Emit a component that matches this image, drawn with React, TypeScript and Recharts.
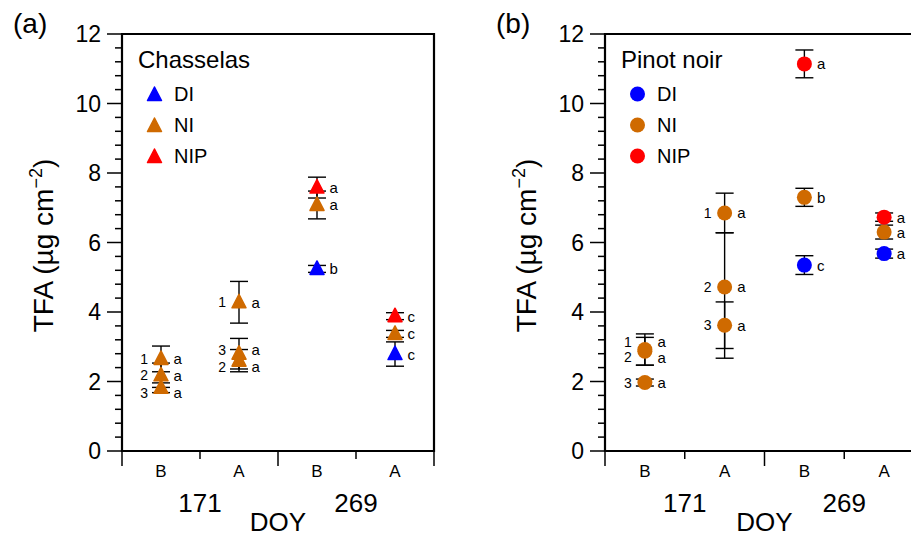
import { ScatterChart, Scatter, XAxis, YAxis, ErrorBar, ReferenceArea, Legend } from 'recharts';

const categories = ['B', 'A', 'B', 'A'];
const doyLabels = ['171', '269'];
const yMajorTicks = [0, 2, 4, 6, 8, 10, 12];
const yMinorStep = 0.4;

// cat = index into categories, rep = replicate label (NI on DOY 171 only)
type Pt = { cat: number; tfa: number; err: number | number[]; sig: string; rep?: number };

const chasselasDI: Pt[] = [
  { cat: 2, tfa: 5.24, err: 0.1, sig: 'b' },
  { cat: 3, tfa: 2.79, err: 0.35, sig: 'c' },
];
const chasselasNI: Pt[] = [
  { cat: 0, rep: 1, tfa: 2.65, err: 0.37, sig: 'a' },
  { cat: 0, rep: 2, tfa: 2.18, err: 0.35, sig: 'a' },
  { cat: 0, rep: 3, tfa: 1.82, err: 0.14, sig: 'a' },
  { cat: 1, rep: 1, tfa: 4.28, err: 0.6, sig: 'a' },
  { cat: 1, rep: 2, tfa: 2.6, err: 0.32, sig: 'a' },
  { cat: 1, rep: 3, tfa: 2.8, err: 0.44, sig: 'a' },
  { cat: 2, tfa: 7.08, err: 0.4, sig: 'a' },
  { cat: 3, tfa: 3.37, err: 0.1, sig: 'c' },
];
const chasselasNIP: Pt[] = [
  { cat: 2, tfa: 7.58, err: 0.3, sig: 'a' },
  { cat: 3, tfa: 3.88, err: 0.1, sig: 'c' },
];

const pinotDI: Pt[] = [
  { cat: 2, tfa: 5.35, err: 0.27, sig: 'c' },
  { cat: 3, tfa: 5.68, err: 0.13, sig: 'a' },
];
const pinotNI: Pt[] = [
  { cat: 0, rep: 1, tfa: 2.92, err: 0.45, sig: 'a' },
  { cat: 0, rep: 2, tfa: 2.87, err: 0.4, sig: 'a' },
  { cat: 0, rep: 3, tfa: 1.97, err: 0.1, sig: 'a' },
  { cat: 1, rep: 1, tfa: 6.85, err: 0.57, sig: 'a' },
  { cat: 1, rep: 2, tfa: 4.72, err: [2.05, 1.56], sig: 'a' },
  { cat: 1, rep: 3, tfa: 3.62, err: 0.67, sig: 'a' },
  { cat: 2, tfa: 7.3, err: 0.26, sig: 'b' },
  { cat: 3, tfa: 6.3, err: 0.2, sig: 'a' },
];
const pinotNIP: Pt[] = [
  { cat: 2, tfa: 11.14, err: 0.4, sig: 'a' },
  { cat: 3, tfa: 6.73, err: 0.12, sig: 'a' },
];

const COLORS: Record<string, string> = { DI: '#0000ff', NI: '#cf6a00', NIP: '#ff0000' };
const FONT = '"Liberation Sans", Arial, Helvetica, sans-serif';

// vertical nudges (px) for labels where points overlap
const labelNudge: Record<string, number> = {
  'a-0-3': 5, 'a-1-3': -4, 'a-1-2': 6,
  'b-0-1': -8, 'b-0-2': 6,
};

const yTicks = Array.from({ length: 31 }, (_, i) => Math.round(i * yMinorStep * 10) / 10);
const xTicks = [0, 0.5, 1, 1.5, 2, 2.5, 3, 3.5, 4];

function marker(kind: 'tri' | 'dot', color: string, cx: number, cy: number) {
  if (kind === 'tri') {
    return (
      <polygon
        points={`${cx},${cy - 8} ${cx - 7},${cy + 5.5} ${cx + 7},${cy + 5.5}`}
        fill={color} stroke={color} strokeWidth={1.5} strokeLinejoin="round"
      />
    );
  }
  return <circle cx={cx} cy={cy} r={7.5} fill={color} />;
}

const makeShape = (kind: 'tri' | 'dot', color: string, panel: string) => (props: any) => {
  const { cx, cy, payload } = props;
  const dy = payload.rep ? labelNudge[`${panel}-${payload.cat}-${payload.rep}`] ?? 0 : 0;
  return (
    <g>
      {marker(kind, color, cx, cy)}
      <text x={cx + 12.5} y={cy + dy} dominantBaseline="central" fontSize={15} fontFamily={FONT}>{payload.sig}</text>
      {payload.rep && (
        <text x={cx - 13} y={cy + dy} textAnchor="end" dominantBaseline="central" fontSize={14} fontFamily={FONT}>
          {payload.rep}
        </text>
      )}
    </g>
  );
};

function YTick({ x, y, payload }: any) {
  const v = payload.value;
  const major = yMajorTicks.includes(v);
  return (
    <g>
      <line x1={x - (major ? 15 : 7)} x2={x} y1={y} y2={y} stroke="#000" strokeWidth={1.5} />
      {major && (
        <text x={x - 21} y={y} textAnchor="end" dominantBaseline="central" fontSize={23} fontFamily={FONT}>{v}</text>
      )}
    </g>
  );
}

function XTick({ x, y, payload }: any) {
  const v = payload.value;
  if (Number.isInteger(v)) {
    return (
      <g>
        <line x1={x} x2={x} y1={y} y2={y + (v % 2 === 0 ? 15 : 8)} stroke="#000" strokeWidth={1.5} />
        {v % 2 === 1 && (
          <text x={x} y={y + 61} textAnchor="middle" fontSize={26} fontFamily={FONT}>{doyLabels[(v - 1) / 2]}</text>
        )}
      </g>
    );
  }
  return (
    <text x={x} y={y + 26} textAnchor="middle" fontSize={17} fontFamily={FONT}>{categories[Math.floor(v)]}</text>
  );
}

function YTitle({ viewBox }: any) {
  const cx = viewBox.x + viewBox.width - 69;
  const cy = viewBox.y + viewBox.height / 2 + 3;
  return (
    <text x={cx} y={cy} transform={`rotate(-90 ${cx} ${cy})`} textAnchor="middle" fontSize={28} fontFamily={FONT}>
      TFA (µg cm<tspan dy={-11} fontSize={18}>−2</tspan><tspan dy={11}>)</tspan>
    </text>
  );
}

function LegendBox({ payload, title, kind }: any) {
  return (
    <div style={{ position: 'relative', width: 300, height: 180, fontFamily: FONT }}>
      <div style={{ position: 'absolute', left: 138, top: 48, fontSize: 24, lineHeight: '24px', whiteSpace: 'nowrap' }}>
        {title}
      </div>
      {(payload ?? []).map((item: any, i: number) => (
        <div key={item.value} style={{ position: 'absolute', left: 0, top: 84 + 31 * i, height: 20, width: 300 }}>
          <svg style={{ position: 'absolute', left: 146, top: 1 }} width={18} height={18}>
            {marker(kind, COLORS[item.value], 8.5, kind === 'tri' ? 10 : 9)}
          </svg>
          <span style={{ position: 'absolute', left: 174, top: 0, fontSize: 20, lineHeight: '20px' }}>{item.value}</span>
        </div>
      ))}
    </div>
  );
}

function Panel({ id, tag, title, kind, di, ni, nip, left, plotWidth }: any) {
  const withX = (pts: Pt[]) => pts.map(p => ({ ...p, x: p.cat + 0.5 }));
  const width = 122 + plotWidth + 26;
  return (
    <div style={{ position: 'absolute', left, top: 0 }}>
      <div style={{ position: 'absolute', left: 13, top: 10, fontSize: 28, lineHeight: '28px', fontFamily: FONT, zIndex: 2 }}>
        {tag}
      </div>
      <ScatterChart width={width} height={534} margin={{ top: 34, right: 26, bottom: 0, left: 0 }}>
        <XAxis
          type="number" dataKey="x" domain={[0, 4]} ticks={xTicks} interval={0}
          axisLine={false} tickLine={false} tickSize={0} tickMargin={0} height={83}
          tick={<XTick />}
          label={{ value: 'DOY', position: 'insideBottom', offset: 3, fontSize: 26, fill: '#000', fontFamily: FONT }}
        />
        <YAxis
          type="number" dataKey="tfa" domain={[0, 12]} ticks={yTicks} interval={0}
          axisLine={false} tickLine={false} tickSize={0} tickMargin={0} width={122}
          tick={<YTick />}
          label={{ content: (p: any) => <YTitle viewBox={p.viewBox} /> }}
        />
        <ReferenceArea x1={0} x2={4} y1={0} y2={12} fill="none" stroke="#000" strokeWidth={2.2} />
        <Legend
          verticalAlign="middle"
          wrapperStyle={{ left: 0, top: 0, width: 300, height: 180 }}
          content={(p: any) => <LegendBox payload={p.payload} title={title} kind={kind} />}
        />
        <Scatter name="DI" data={withX(di)} fill={COLORS.DI} shape={makeShape(kind, COLORS.DI, id)} isAnimationActive={false}>
          <ErrorBar dataKey="err" direction="y" width={9} stroke="#000" strokeWidth={1.4} />
        </Scatter>
        <Scatter name="NI" data={withX(ni)} fill={COLORS.NI} shape={makeShape(kind, COLORS.NI, id)} isAnimationActive={false}>
          <ErrorBar dataKey="err" direction="y" width={9} stroke="#000" strokeWidth={1.4} />
        </Scatter>
        <Scatter name="NIP" data={withX(nip)} fill={COLORS.NIP} shape={makeShape(kind, COLORS.NIP, id)} isAnimationActive={false}>
          <ErrorBar dataKey="err" direction="y" width={9} stroke="#000" strokeWidth={1.4} />
        </Scatter>
      </ScatterChart>
    </div>
  );
}

export default function App() {
  return (
    <div style={{ position: 'absolute', left: 0, top: 0, width: 911, height: 534, overflow: 'hidden', background: '#fff' }}>
      <Panel id="a" tag="(a)" title="Chasselas" kind="tri" di={chasselasDI} ni={chasselasNI} nip={chasselasNIP} left={0} plotWidth={312} />
      <Panel id="b" tag="(b)" title="Pinot noir" kind="dot" di={pinotDI} ni={pinotNI} nip={pinotNIP} left={483} plotWidth={319} />
    </div>
  );
}
